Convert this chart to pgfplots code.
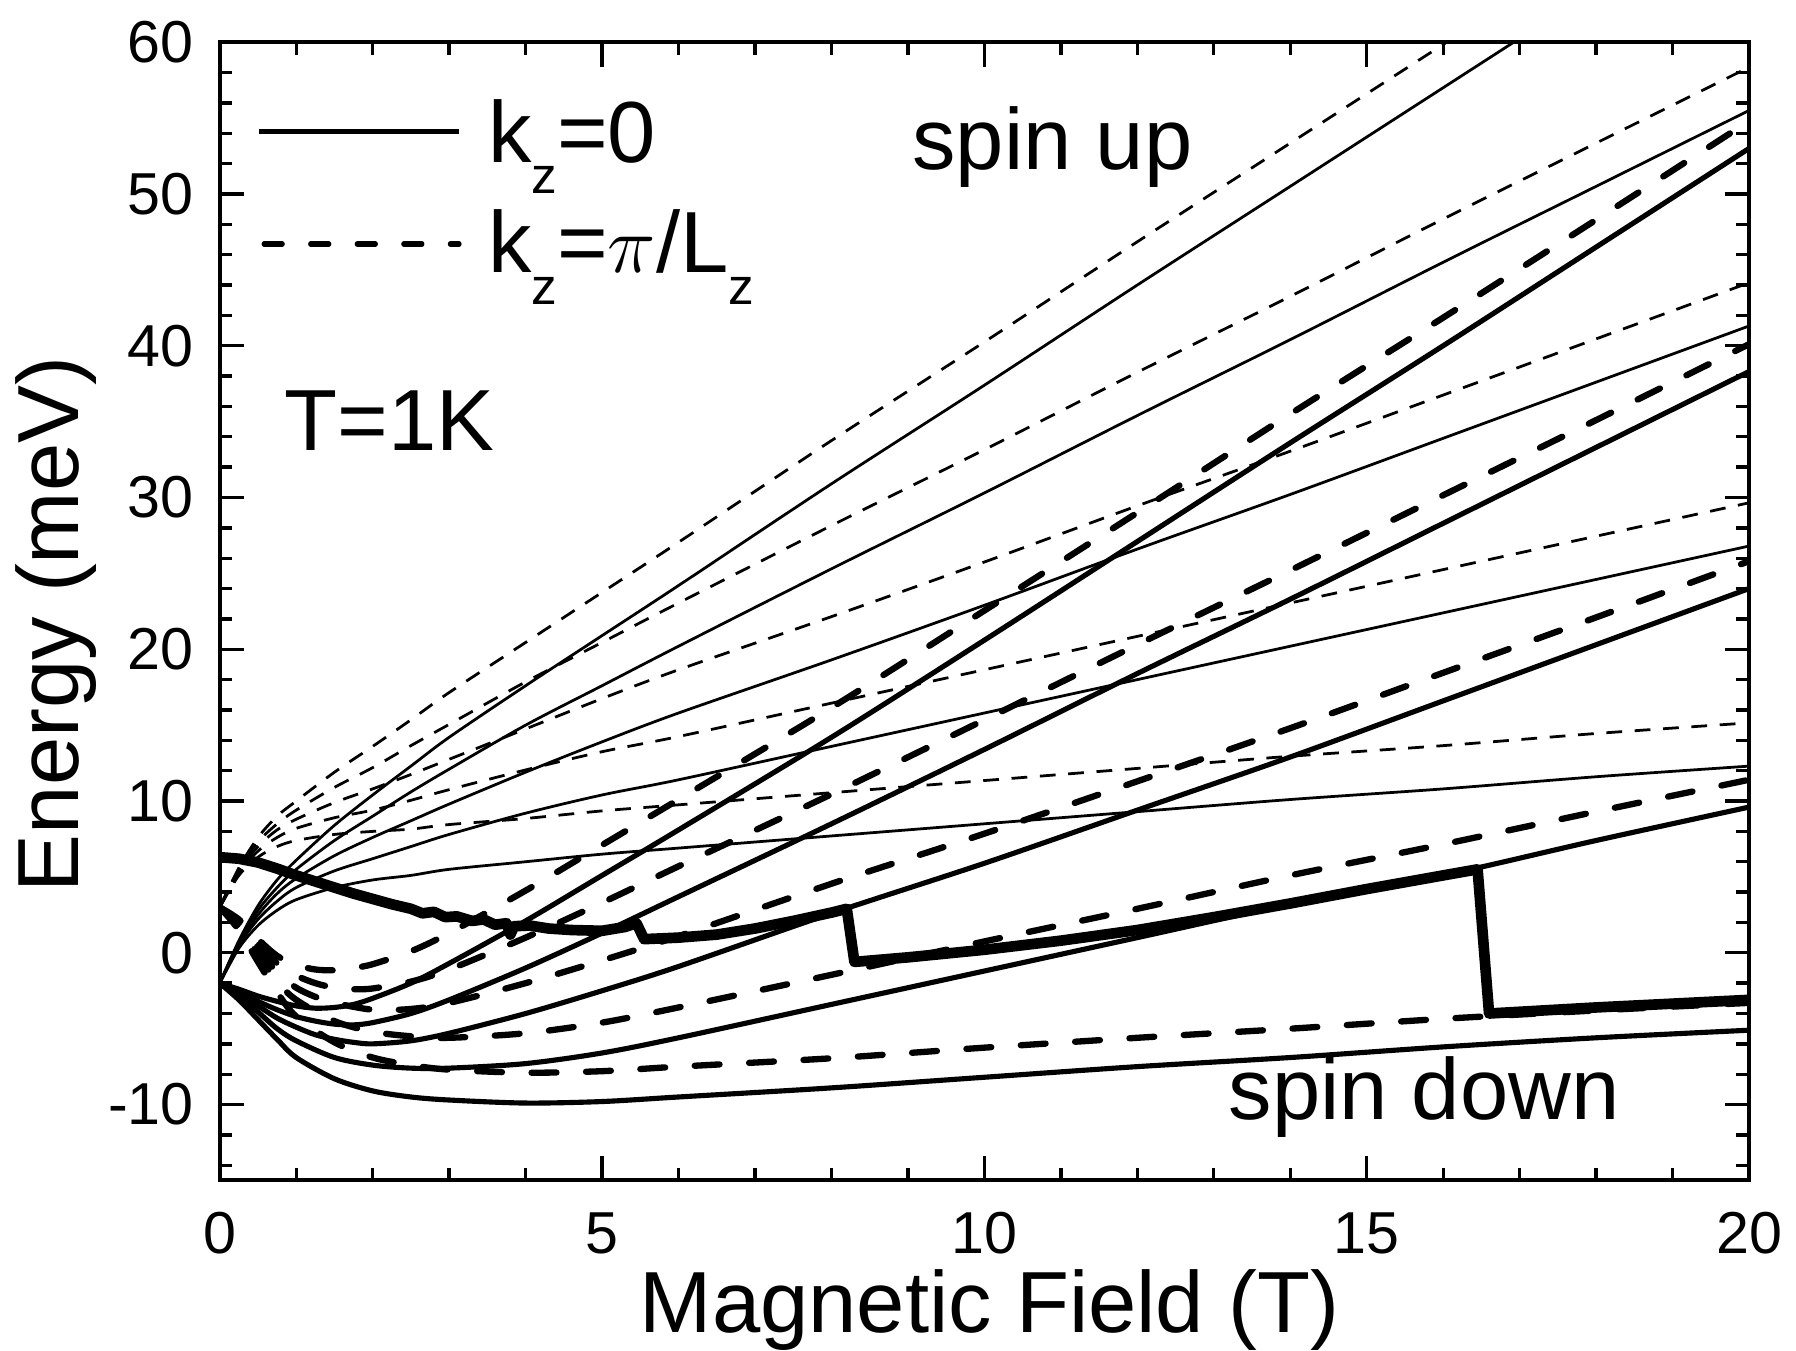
\documentclass[border=0pt]{standalone}
\usepackage{fontspec}
\setmainfont{Liberation Sans}
\usepackage{pgfplots}
\pgfplotsset{compat=1.18}

\tikzset{
  upsol/.style={black, line width=0.7pt},
  updash/.style={black, line width=0.7pt, dash pattern=on 4pt off 3.2pt},
  dnsol/.style={black, line width=1.3pt},
  dndash/.style={black, line width=1.6pt, line cap=round, dash pattern=on 6.3pt off 7.5pt},
  fermi/.style={black, line width=2.7pt, line join=round},
}

\begin{document}
\begin{tikzpicture}
\begin{axis}[
  name=ax,
  scale only axis,
  width=387.6pt, height=288.5pt,
  xmin=0, xmax=20, ymin=-15, ymax=60,
  xtick={0,5,10,15,20}, xticklabels={0,5,10,15,20},
  ytick={-10,0,10,20,30,40,50,60}, yticklabels={-10,0,10,20,30,40,50,60},
  minor xtick={0,1,...,20},
  minor ytick={-14,-12,...,60},
  tick align=inside,
  major tick length=6.2pt, minor tick length=3.2pt,
  every tick/.style={black, line width=0.85pt},
  axis line style={line width=1pt},
  ticklabel style={font=\fontsize{15}{17}\selectfont, inner sep=0pt},
  xticklabel style={anchor=base, yshift=-18.6pt},
  yticklabel style={anchor=east, xshift=-6.4pt},
  xlabel={Magnetic Field (T)},
  ylabel={Energy (meV)},
  every axis x label/.style={at={(axis description cs:0.5034,-0.1335)}, anchor=base,
    inner sep=0pt, font=\fontsize{22}{26}\selectfont},
  every axis y label/.style={at={(axis description cs:-0.0921,0.4886)}, rotate=90, anchor=base,
    inner sep=0pt, font=\fontsize{22}{26}\selectfont},
]

% spin up, k_z = 0
\addplot[upsol, smooth] coordinates {(0,-2) (0.25,0.3) (0.5,1.8) (0.75,2.8) (1,3.5) (1.5,4.3) (2,4.8) (2.5,5.1) (3,5.5) (4,6.0) (5,6.5) (6,6.9) (8,7.7) (10,8.5) (12,9.3) (14,10.1) (16,10.8) (18,11.6) (20,12.3)};
\addplot[upsol, smooth] coordinates {(0,-2) (0.25,0.5) (0.5,2.2) (0.75,3.4) (1,4.3) (1.5,5.4) (2,6.2) (2.5,7.0) (3,7.8) (4,9.2) (5,10.4) (6,11.4) (8,13.6) (10,15.8) (12,18.0) (14,20.2) (16,22.4) (18,24.6) (20,26.8)};
\addplot[upsol, smooth] coordinates {(0,-2) (0.25,0.6) (0.5,2.5) (0.75,3.9) (1,4.9) (1.5,6.4) (2,7.6) (2.5,8.7) (3,9.8) (4,11.9) (5,13.9) (6,15.8) (8,19.3) (10,22.9) (12,26.6) (14,30.2) (16,33.9) (18,37.6) (20,41.3)};
\addplot[upsol, smooth] coordinates {(0,-2) (0.25,0.7) (0.5,2.8) (0.75,4.3) (1,5.5) (1.5,7.4) (2,9.0) (2.5,10.6) (3,12.1) (4,15.0) (5,17.6) (6,20.2) (8,25.3) (10,30.3) (12,35.4) (14,40.4) (16,45.5) (18,50.5) (20,55.5)};
\addplot[upsol, smooth] coordinates {(0,-2) (0.25,0.8) (0.5,3.1) (0.75,4.8) (1,6.1) (1.5,8.4) (2,10.4) (2.5,12.3) (3,14.2) (4,17.6) (5,20.9) (6,24.2) (8,30.9) (10,37.4) (12,44.0) (14,50.5) (16,57.0) (18,63.5)};

% spin up, k_z = pi/L_z
\addplot[updash, smooth] coordinates {(0,3.0) (0.25,5.1) (0.5,6.3) (0.75,7.0) (1,7.4) (1.5,7.8) (2,8.0) (2.5,8.15) (3,8.45) (4,8.85) (5,9.35) (6,9.75) (8,10.55) (10,11.35) (12,12.15) (14,12.95) (16,13.65) (18,14.45) (20,15.15)};
\addplot[updash, smooth] coordinates {(0,3.0) (0.25,5.3) (0.5,6.7) (0.75,7.6) (1,8.2) (1.5,8.9) (2,9.4) (2.5,10.05) (3,10.75) (4,12.05) (5,13.25) (6,14.25) (8,16.45) (10,18.65) (12,20.85) (14,23.05) (16,25.25) (18,27.45) (20,29.65)};
\addplot[updash, smooth] coordinates {(0,3.0) (0.25,5.4) (0.5,7.0) (0.75,8.1) (1,8.8) (1.5,9.9) (2,10.8) (2.5,11.75) (3,12.75) (4,14.75) (5,16.75) (6,18.65) (8,22.15) (10,25.75) (12,29.45) (14,33.05) (16,36.75) (18,40.45) (20,44.15)};
\addplot[updash, smooth] coordinates {(0,3.0) (0.25,5.5) (0.5,7.3) (0.75,8.5) (1,9.4) (1.5,10.9) (2,12.2) (2.5,13.65) (3,15.05) (4,17.85) (5,20.45) (6,23.05) (8,28.15) (10,33.15) (12,38.25) (14,43.25) (16,48.35) (18,53.35) (20,58.35)};
\addplot[updash, smooth] coordinates {(0,3.0) (0.25,5.6) (0.5,7.6) (0.75,9.0) (1,10.0) (1.5,11.9) (2,13.6) (2.5,15.35) (3,17.15) (4,20.45) (5,23.75) (6,27.05) (8,33.75) (10,40.25) (12,46.85) (14,53.35) (16,59.85) (18,66.35)};

% spin down, k_z = pi/L_z
\addplot[dndash, smooth] coordinates {(0,3.0) (0.25,1.5) (0.5,-0.6) (0.75,-2.6) (1,-4.2) (1.5,-5.9) (2,-6.9) (2.5,-7.4) (3,-7.7) (4,-7.9) (5,-7.8) (6,-7.5) (8,-6.95) (10,-6.25) (12,-5.6) (14,-5.0) (16,-4.35) (18,-3.8) (20,-3.3)};
\addplot[dndash, smooth] coordinates {(0,3.0) (0.25,1.7) (0.5,-0.1) (0.75,-1.9) (1,-3.1) (1.5,-4.5) (2,-5.2) (2.5,-5.5) (3,-5.6) (4,-5.3) (5,-4.6) (6,-3.6) (8,-1.45) (10,0.75) (12,2.9) (14,5.1) (16,7.15) (18,9.3) (20,11.4)};
\addplot[dndash, smooth] coordinates {(0,3.0) (0.25,1.8) (0.5,0.3) (0.75,-1.3) (1,-2.3) (1.25,-2.9) (1.5,-3.3) (2,-3.75) (2.5,-3.7) (3,-3.3) (4,-2.0) (5,-0.5) (6,1.1) (8,4.55) (10,7.85) (12,11.3) (14,14.8) (16,18.45) (18,22.1) (20,25.8)};
\addplot[dndash, smooth] coordinates {(0,3.0) (0.25,2.0) (0.5,0.6) (0.75,-0.7) (1,-1.5) (1.25,-2.0) (1.5,-2.3) (1.75,-2.4) (2,-2.35) (2.5,-1.9) (3,-1.1) (4,1.0) (5,3.3) (6,5.7) (8,10.45) (10,15.35) (12,20.3) (14,25.2) (16,30.15) (18,35.1) (20,40.1)};
\addplot[dndash, smooth] coordinates {(0,3.0) (0.25,2.2) (0.5,0.9) (0.75,-0.2) (1,-0.8) (1.25,-1.1) (1.5,-1.15) (1.75,-1.0) (2,-0.75) (2.5,0.1) (3,1.3) (4,4.1) (5,7.1) (6,10.1) (8,16.15) (10,22.55) (12,29.0) (14,35.5) (16,41.85) (18,48.3) (20,54.8)};

% spin down, k_z = 0
\addplot[dnsol, smooth] coordinates {(0,-2) (0.25,-3.1) (0.5,-4.4) (0.75,-5.7) (1,-6.9) (1.5,-8.3) (2,-9.1) (2.5,-9.5) (3,-9.7) (4,-9.9) (5,-9.8) (6,-9.5) (8,-8.9) (10,-8.2) (12,-7.5) (14,-6.9) (16,-6.2) (18,-5.6) (20,-5.1)};
\addplot[dnsol, smooth] coordinates {(0,-2) (0.25,-2.9) (0.5,-3.9) (0.75,-5.0) (1,-5.8) (1.5,-6.9) (2,-7.4) (2.5,-7.6) (3,-7.6) (4,-7.3) (5,-6.6) (6,-5.6) (8,-3.4) (10,-1.2) (12,1.0) (14,3.2) (16,5.1) (18,7.4) (20,9.6)};
\addplot[dnsol, smooth] coordinates {(0,-2) (0.25,-2.8) (0.5,-3.5) (0.75,-4.3) (1,-4.9) (1.25,-5.4) (1.5,-5.7) (1.75,-5.9) (2,-6.0) (2.5,-5.8) (3,-5.3) (4,-4.0) (5,-2.5) (6,-0.9) (8,2.6) (10,5.9) (12,9.4) (14,12.9) (16,16.6) (18,20.3) (20,24.0)};
\addplot[dnsol, smooth] coordinates {(0,-2) (0.25,-2.6) (0.5,-3.2) (0.75,-3.75) (1,-4.2) (1.25,-4.5) (1.5,-4.7) (1.75,-4.75) (2,-4.6) (2.5,-4.0) (3,-3.1) (4,-1.0) (5,1.3) (6,3.7) (8,8.5) (10,13.4) (12,18.4) (14,23.3) (16,28.3) (18,33.3) (20,38.3)};
\addplot[dnsol, smooth] coordinates {(0,-2) (0.25,-2.4) (0.5,-2.85) (0.75,-3.2) (1,-3.5) (1.25,-3.65) (1.5,-3.6) (1.75,-3.4) (2,-3.0) (2.5,-2.0) (3,-0.7) (4,2.1) (5,5.1) (6,8.1) (8,14.2) (10,20.6) (12,27.1) (14,33.6) (16,40.0) (18,46.5) (20,53.0)};

% Fermi level
\addplot[fermi] coordinates {(0,6.3) (0.25,6.2) (0.5,5.95) (0.75,5.55) (1,5.1) (1.25,4.7) (1.5,4.3) (1.75,3.9) (2,3.55) (2.25,3.2) (2.5,2.9) (2.65,2.6) (2.8,2.7) (2.95,2.35) (3.1,2.4) (3.3,2.1) (3.45,2.2) (3.6,1.85) (3.75,1.95) (3.8,1.2) (3.85,1.75) (4.05,1.8) (4.3,1.6) (4.6,1.5) (5.0,1.45) (5.3,1.7) (5.45,1.95) (5.55,0.9) (6,1.0) (6.5,1.2) (7,1.6) (7.5,2.1) (8.0,2.65) (8.2,2.9) (8.3,-0.6) (9,-0.3) (10,0.2) (11,0.8) (12,1.5) (13,2.35) (14,3.25) (15,4.2) (16,5.1) (16.45,5.5) (16.6,-4.0) (18,-3.6) (20,-3.1)};

% legend and annotations
\draw[black, line width=1.3pt] (axis cs:0.51,54.1) -- (axis cs:3.13,54.1);
\draw[black, line width=1.3pt, line cap=round, dash pattern=on 4.6pt off 7.2pt] (axis cs:0.58,46.7) -- (axis cs:3.13,46.7);
\node[anchor=base west, inner sep=0pt, font=\fontsize{22}{26}\selectfont] at (axis cs:3.5,52.1)
  {k\raisebox{-8pt}{\fontsize{13}{13}\selectfont z}=0};
\node[anchor=base west, inner sep=0pt, font=\fontsize{22}{26}\selectfont] at (axis cs:3.5,44.8)
  {k\raisebox{-8pt}{\fontsize{13}{13}\selectfont z}=$\pi$/L\raisebox{-8pt}{\fontsize{13}{13}\selectfont z}};
\node[anchor=base west, inner sep=0pt, font=\fontsize{22}{26}\selectfont] at (axis cs:0.84,33.1) {T=1K};
\node[anchor=base, inner sep=0pt, font=\fontsize{22}{26}\selectfont] at (axis cs:10.89,51.6) {spin up};
\node[anchor=base, inner sep=0pt, font=\fontsize{22}{26}\selectfont] at (axis cs:15.75,-11.0) {spin down};
\end{axis}
\pgfresetboundingbox
\path ([shift={(-55.7pt,-43.2pt)}]ax.south west) rectangle ([shift={(11.9pt,10.7pt)}]ax.north east);
\end{tikzpicture}
\end{document}
